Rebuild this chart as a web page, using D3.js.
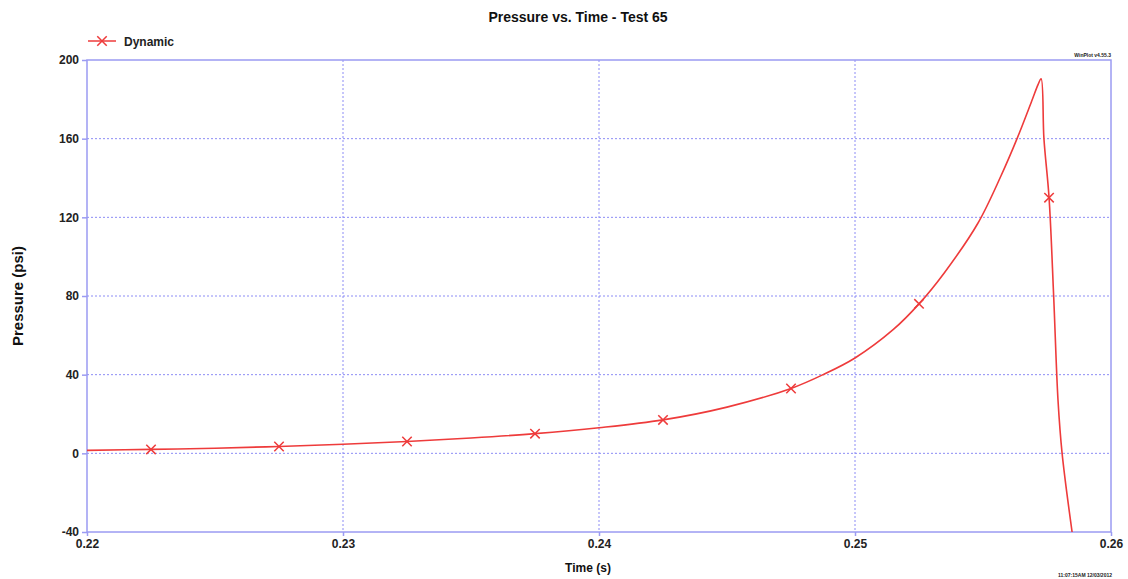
<!DOCTYPE html>
<html>
<head>
<meta charset="utf-8">
<script src="https://cdn.jsdelivr.net/npm/d3@7"></script>
<style>
  body { margin: 0; background: #fff; }
  svg text { font-family: "Liberation Sans", Arial, sans-serif; }
</style>
</head>
<body>
<svg id="chart" width="1128" height="579"></svg>
<script>
// curve samples (time in s, pressure in psi)
var times = [0.2200, 0.2225, 0.2250, 0.2275, 0.2300, 0.2325, 0.2350, 0.2375, 0.2400, 0.2425,
             0.2450, 0.2475, 0.24875, 0.2500, 0.2515, 0.2525, 0.2535, 0.2548, 0.2557, 0.25633,
             0.2569, 0.25715, 0.25727, 0.25738, 0.25758, 0.25776, 0.25793, 0.25809, 0.25848];
var pressure = [1.5, 2.0, 2.6, 3.5, 4.6, 6.0, 7.8, 10, 13, 17,
                23.5, 33, 40, 48.5, 63, 76, 92, 117, 141, 160,
                179, 187.5, 190.5, 160, 130, 80, 27, 0, -40];

// the x markers
var markerTimes = [0.2225, 0.2275, 0.2325, 0.2375, 0.2425, 0.2475, 0.2525, 0.25758];
var markerValues = [2.0, 3.5, 6.0, 10, 17, 33, 76, 130];

var xTicks = [0.22, 0.23, 0.24, 0.25, 0.26];
var yTicks = [-40, 0, 40, 80, 120, 160, 200];

var lineColor = "#ee3b3b";
var gridColor = "#8c8cf5";

var svg = d3.select("#chart");
// note: "top" is taken by window.top, so plot edges get their own names
var plotL = 87, plotR = 1111, plotT = 60, plotB = 532;

var x = d3.scaleLinear().domain([0.22, 0.26]).range([plotL, plotR]);
var y = d3.scaleLinear().domain([-40, 200]).range([plotB, plotT]);

// grid
svg.append("g").selectAll("line")
  .data(xTicks.slice(1, -1))
  .enter().append("line")
  .attr("x1", function(d) { return x(d); }).attr("x2", function(d) { return x(d); })
  .attr("y1", plotT).attr("y2", plotB)
  .attr("stroke", gridColor).attr("stroke-width", 1).attr("stroke-dasharray", "2,2");

svg.append("g").selectAll("line")
  .data(yTicks.slice(1, -1))
  .enter().append("line")
  .attr("x1", plotL).attr("x2", plotR)
  .attr("y1", function(d) { return y(d); }).attr("y2", function(d) { return y(d); })
  .attr("stroke", gridColor).attr("stroke-width", 1).attr("stroke-dasharray", "2,2");

// frame
svg.append("rect")
  .attr("x", plotL).attr("y", plotT)
  .attr("width", plotR - plotL).attr("height", plotB - plotT)
  .attr("fill", "none").attr("stroke", "#9b9bf2").attr("stroke-width", 1.5);

// axes (plain hyphen for negatives, like the original)
var yAxis = d3.axisLeft(y).tickValues(yTicks).tickFormat(function(d) { return String(d); })
  .tickSize(5).tickPadding(3);
var gy = svg.append("g").attr("transform", "translate(" + plotL + ",0)").call(yAxis);
gy.select(".domain").remove();
gy.selectAll(".tick line").attr("stroke", "#9b9bf2").attr("stroke-width", 1.5);
gy.selectAll(".tick text").attr("font-size", 12).attr("font-weight", "bold").attr("fill", "#222")
  .attr("font-family", "Liberation Sans, Arial, sans-serif");

var xAxis = d3.axisBottom(x).tickValues(xTicks).tickFormat(d3.format(".2f")).tickSize(4).tickPadding(3);
var gx = svg.append("g").attr("transform", "translate(0," + plotB + ")").call(xAxis);
gx.select(".domain").remove();
gx.selectAll(".tick line").attr("stroke", "#9b9bf2").attr("stroke-width", 1.5);
gx.selectAll(".tick text").attr("font-size", 12).attr("font-weight", "bold").attr("fill", "#222")
  .attr("font-family", "Liberation Sans, Arial, sans-serif");

// line
var line = d3.line()
  .x(function(d) { return x(d[0]); })
  .y(function(d) { return y(d[1]); })
  .curve(d3.curveCatmullRom.alpha(0.5));

svg.append("path")
  .datum(d3.zip(times, pressure))
  .attr("d", line)
  .attr("fill", "none").attr("stroke", lineColor).attr("stroke-width", 1.6);

// markers
var cross = d3.symbol().type(d3.symbolX).size(60);
svg.append("g").selectAll("path")
  .data(d3.zip(markerTimes, markerValues))
  .enter().append("path")
  .attr("d", cross)
  .attr("transform", function(d) { return "translate(" + x(d[0]) + "," + y(d[1]) + ")"; })
  .attr("fill", "none").attr("stroke", lineColor).attr("stroke-width", 1.5);

// title & labels
svg.append("text").attr("x", 578).attr("y", 22).attr("text-anchor", "middle")
  .attr("font-size", 14).attr("font-weight", "bold").attr("fill", "#111")
  .text("Pressure vs. Time - Test 65");

svg.append("text").attr("x", 588).attr("y", 572).attr("text-anchor", "middle")
  .attr("font-size", 12).attr("font-weight", "bold").attr("fill", "#111")
  .text("Time (s)");

svg.append("text")
  .attr("transform", "translate(23," + ((plotT + plotB) / 2) + ") rotate(-90)")
  .attr("text-anchor", "middle")
  .attr("font-size", 15).attr("font-weight", "bold").attr("fill", "#111")
  .text("Pressure (psi)");

// legend
svg.append("line").attr("x1", 88).attr("x2", 116).attr("y1", 41).attr("y2", 41)
  .attr("stroke", lineColor).attr("stroke-width", 1.5);
svg.append("path").attr("d", cross)
  .attr("transform", "translate(102,41)")
  .attr("fill", "none").attr("stroke", lineColor).attr("stroke-width", 1.5);
svg.append("text").attr("x", 124).attr("y", 46)
  .attr("font-size", 12).attr("font-weight", "bold").attr("fill", "#222")
  .text("Dynamic");

// small stamps
svg.append("text").attr("x", 1111).attr("y", 57).attr("text-anchor", "end")
  .attr("font-size", 5).attr("font-weight", "bold").attr("fill", "#222")
  .text("WinPlot v4.55.3");
svg.append("text").attr("x", 1112).attr("y", 577).attr("text-anchor", "end")
  .attr("font-size", 5).attr("font-weight", "bold").attr("fill", "#222")
  .text("11:07:15AM 12/03/2012");
</script>
</body>
</html>
